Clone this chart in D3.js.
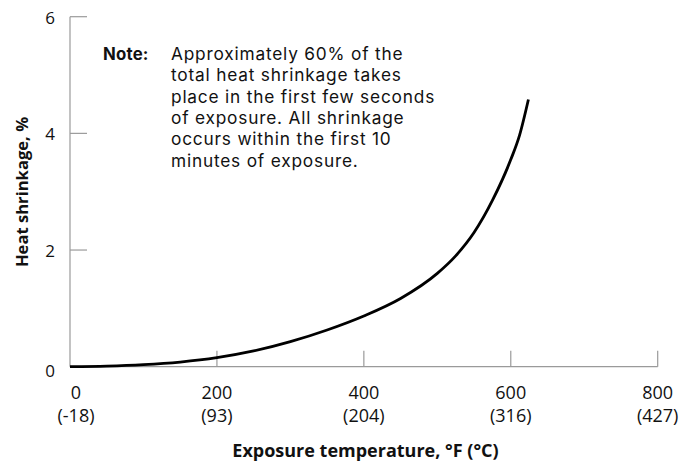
<!DOCTYPE html>
<html><head><meta charset="utf-8">
<script src="https://cdn.jsdelivr.net/npm/d3@7"></script>
<style>
body{margin:0;background:#fff;}
text{font-family:"Open Sans","Noto Sans",sans-serif;fill:#111;}
text.note{font-family:Inter,"Open Sans",sans-serif;}
</style></head>
<body><svg id="c" width="693" height="464"></svg>
<script>
const tempF = [0, 50, 100, 150, 200, 250, 300, 350, 400, 450, 500, 525, 550, 575, 600, 612, 624];
const shrinkage = [0, 0.01, 0.035, 0.08, 0.155, 0.27, 0.43, 0.63, 0.87, 1.17, 1.6, 1.9, 2.3, 2.85, 3.55, 3.97, 4.58];
const xTicks = [0, 200, 400, 600, 800];
const xTickC = ["(-18)", "(93)", "(204)", "(316)", "(427)"];
const yTicks = [0, 2, 4, 6];
const noteLines = ["Approximately 60% of the", "total heat shrinkage takes", "place in the first few seconds", "of exposure. All shrinkage", "occurs within the first 10", "minutes of exposure."];
const xTitle = "Exposure temperature, °F (°C)";
const yTitle = "Heat shrinkage, %";

const svg = d3.select("#c");
const x = d3.scaleLinear().domain([0, 800]).range([70, 657.7]);
const y = d3.scaleLinear().domain([0, 6]).range([366.7, 16.7]);
const axisColor = "#9a9a9a";

svg.append("line").attr("x1", x(0)).attr("x2", x(800)).attr("y1", y(0)).attr("y2", y(0))
  .attr("stroke", axisColor).attr("stroke-width", 1.2);
svg.append("line").attr("x1", x(0)).attr("x2", x(0)).attr("y1", y(0)).attr("y2", y(6))
  .attr("stroke", axisColor).attr("stroke-width", 1.2);

xTicks.forEach((t, i) => {
  if (i > 0) svg.append("line").attr("x1", x(t)).attr("x2", x(t)).attr("y1", y(0)).attr("y2", y(0) - 16)
    .attr("stroke", axisColor).attr("stroke-width", 1.2);
  const lx = x(t) + (i === 0 ? 6 : 0);
  svg.append("text").attr("x", lx).attr("y", 399).attr("text-anchor", "middle")
    .style("font-size", "18px").text(t);
  svg.append("text").attr("x", lx).attr("y", 421.5).attr("text-anchor", "middle")
    .style("font-size", "18px").text(xTickC[i]);
});
yTicks.forEach(t => {
  if (t > 0) svg.append("line").attr("x1", x(0)).attr("x2", x(0) + 17).attr("y1", y(t)).attr("y2", y(t))
    .attr("stroke", axisColor).attr("stroke-width", 1.2);
  svg.append("text").attr("x", 55).attr("y", y(t) + (t === 0 ? 4 : 1)).attr("dy", "0.35em")
    .attr("text-anchor", "end").style("font-size", "17px").text(t);
});

const line = d3.line().x((d, i) => x(tempF[i])).y(d => y(d)).curve(d3.curveMonotoneX);
svg.append("path").datum(shrinkage).attr("d", line).attr("fill", "none")
  .attr("stroke", "#000").attr("stroke-width", 2.8);

svg.append("text").attr("x", 365.5).attr("y", 457).attr("text-anchor", "middle")
  .style("font-size", "18px").style("font-weight", "bold").text(xTitle);
svg.append("text").attr("transform", "translate(28,192) rotate(-90)").attr("text-anchor", "middle")
  .style("font-size", "16.6px").style("font-weight", "bold").text(yTitle);

svg.append("text").attr("class", "note").attr("x", 103).attr("y", 60).style("font-size", "16.8px")
  .style("font-weight", "bold").style("letter-spacing", "0.2px").text("Note:");
noteLines.forEach((l, i) => {
  svg.append("text").attr("class", "note").attr("x", 171).attr("y", 60 + i * 21.3).style("font-size", "17.3px")
    .style("letter-spacing", "0.8px").text(l);
});
</script></body></html>
